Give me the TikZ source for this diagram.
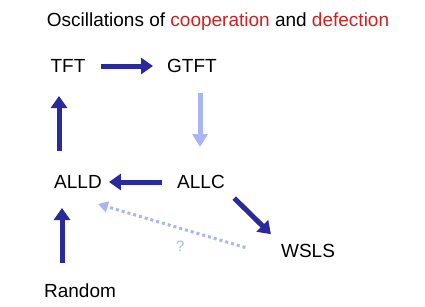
\documentclass[tikz,border=0pt]{standalone}
\usepackage{fontspec}
\setmainfont{Liberation Sans}
\usetikzlibrary{arrows.meta}
\definecolor{navy}{HTML}{2A2A9C}
\definecolor{pale}{HTML}{A9B6F5}
\definecolor{hot}{HTML}{CC2222}
\tikzset{
  strat/.style={inner sep=0pt,text height=13.6pt,text depth=0pt,font=\fontsize{19}{22}\selectfont},
  move/.style={draw=navy,line width=5pt,-{Triangle[length=12pt,width=16pt]}},
  weak/.style={draw=pale,line width=5pt,-{Triangle[length=13pt,width=15pt]}},
}
\begin{document}
\begin{tikzpicture}[x=1pt,y=-1pt]
      \useasboundingbox (0,0) rectangle (425,306);
      \node [font=\fontsize{19}{22}\selectfont] (title) at (218,22)
        {Oscillations of \textcolor{hot}{cooperation} and \textcolor{hot}{defection}};
      \node [strat] (tft) at (68,66) {TFT};
      \node [strat] (gtft) at (192,66) {GTFT};
      \node [strat] (alld) at (78,182) {ALLD};
      \node [strat] (allc) at (201,182) {ALLC};
      \node [strat] (wsls) at (308,251) {WSLS};
      \node [strat] (rand) at (80,291) {Random};

      \draw[move,shorten <=15pt,shorten >=14pt] (tft) -- (gtft);
      \draw[weak,shorten <=20pt,shorten >=28pt] ([xshift=8pt]gtft.south) -- ([xshift=-1pt]allc.north);
      \draw[move,shorten <=15pt,shorten >=7pt] (allc.west) -- (alld.east);
      \draw[move,shorten <=13pt,shorten >=14pt] (allc.south east) -- (wsls.north west);
      \draw[move,shorten <=24pt,shorten >=23pt] ([xshift=-19pt]alld.north) -- ([xshift=-9pt]tft.south);
      \draw[move,shorten <=21pt,shorten >=19pt] ([xshift=-18pt]rand.north) -- ([xshift=-16pt]alld.south);
      \draw[draw=pale,line width=3pt,dash pattern=on 3pt off 3pt,-{Triangle[length=10pt,width=11pt]},shorten <=37pt]
        ([yshift=-7pt]wsls.west) -- node [pos=0.55,below=8pt,text=pale,font=\fontsize{15}{17}\selectfont] {?}
        ([xshift=-4pt,yshift=-15pt]alld.south east);
    \end{tikzpicture}
\end{document}
